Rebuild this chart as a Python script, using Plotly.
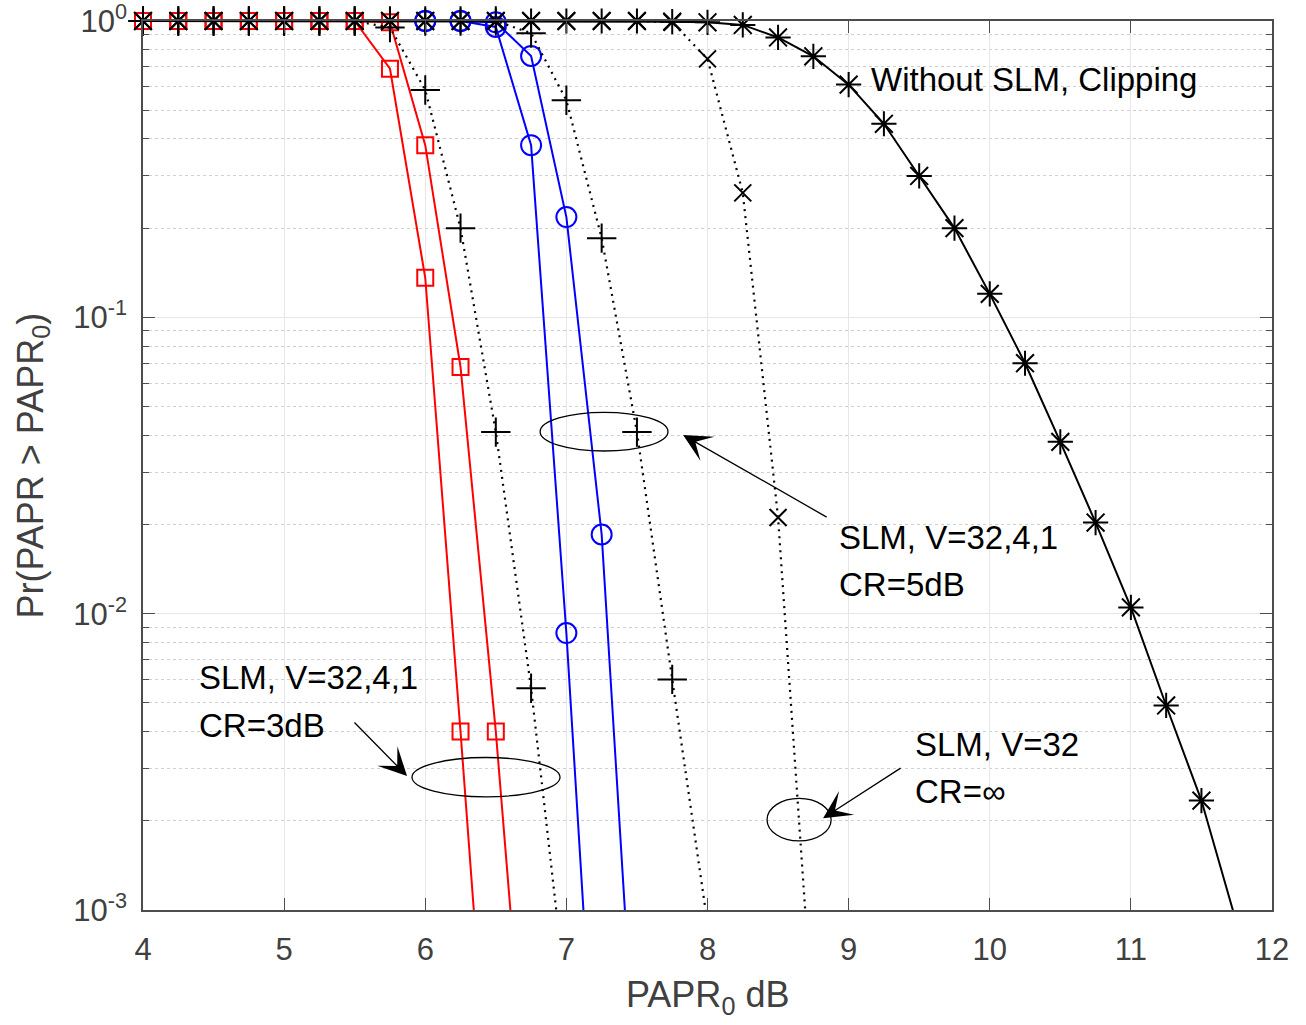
import numpy as np
import plotly.graph_objects as go

# ---------------- data ----------------
x_clip = [4.0, 4.25, 4.5, 4.75, 5.0, 5.25, 5.5, 5.75, 6.0, 6.25, 6.5, 6.75, 7.0, 7.25, 7.5,
          7.75, 8.0, 8.25, 8.5, 8.75, 9.0, 9.25, 9.5, 9.75, 10.0, 10.25, 10.5, 10.75, 11.0,
          11.25, 11.5, 11.75]
y_clip = [1.0, 1.0, 1.0, 1.0, 1.0, 1.0, 1.0, 1.0, 1.0, 1.0, 1.0, 1.0, 1.0, 1.0, 1.0,
          0.995, 0.99, 0.97, 0.88, 0.76, 0.61, 0.45, 0.30, 0.20, 0.12, 0.070, 0.038, 0.0203,
          0.0105, 0.0049, 0.00234, 0.0009]

# CR = 3 dB (red)
x_red_a = [4.0, 4.25, 4.5, 4.75, 5.0, 5.25, 5.5, 5.75, 6.0, 6.25, 6.5]
y_red_a = [1.0, 1.0, 1.0, 1.0, 1.0, 1.0, 1.0, 0.69, 0.136, 0.0040, 0.0001]
x_red_b = [4.0, 4.25, 4.5, 4.75, 5.0, 5.25, 5.5, 5.75, 6.0, 6.25, 6.5, 6.75]
y_red_b = [1.0, 1.0, 1.0, 1.0, 1.0, 1.0, 1.0, 0.99, 0.381, 0.068, 0.0040, 0.00014]
x_dot_e = [4.0, 4.25, 4.5, 4.75, 5.0, 5.25, 5.5, 5.75, 6.0, 6.25, 6.5, 6.75, 7.0]
y_dot_e = [1.0, 1.0, 1.0, 1.0, 1.0, 1.0, 1.0, 0.95, 0.585, 0.20, 0.041, 0.0056, 0.0005]

# CR = 5 dB (blue)
x_blue_c = [6.0, 6.25, 6.5, 6.75, 7.0, 7.25]
y_blue_c = [1.0, 1.0, 0.955, 0.381, 0.0086, 0.0001]
x_blue_d = [6.0, 6.25, 6.5, 6.75, 7.0, 7.25, 7.5]
y_blue_d = [1.0, 1.0, 0.99, 0.762, 0.218, 0.0185, 0.00022]
x_dot_f = [4.0, 4.25, 4.5, 4.75, 5.0, 5.25, 5.5, 5.75, 6.0, 6.25, 6.5, 6.75, 7.0, 7.25,
           7.5, 7.75, 8.0]
y_dot_f = [1.0, 1.0, 1.0, 1.0, 1.0, 1.0, 1.0, 1.0, 1.0, 1.0, 1.0, 0.91, 0.54, 0.185,
           0.041, 0.0060, 0.0009]

# CR = infinity, V = 32
x_dot_g = [4.0, 4.25, 4.5, 4.75, 5.0, 5.25, 5.5, 5.75, 6.0, 6.25, 6.5, 6.75, 7.0, 7.25,
           7.5, 7.75, 8.0, 8.25, 8.5, 8.75]
y_dot_g = [1.0, 1.0, 1.0, 1.0, 1.0, 1.0, 1.0, 1.0, 1.0, 1.0, 1.0, 1.0, 1.0, 1.0,
           1.0, 0.99, 0.745, 0.263, 0.0211, 0.0004]

x_ticks = [4, 5, 6, 7, 8, 9, 10, 11, 12]
y_ticks = [1e-3, 1e-2, 1e-1, 1]
y_ticktext = ["10<sup>-3</sup>", "10<sup>-2</sup>", "10<sup>-1</sup>", "10<sup>0</sup>"]
y_minor = [m * 10.0 ** k for k in (-3, -2, -1) for m in range(2, 10)]

FONT = "Liberation Sans, Arial, Helvetica, sans-serif"
Y_MIN = 1e-3

fig = go.Figure()


def add_series(xs, ys, color, symbol, msize, dash="solid", lw=2.0):
    xs = np.asarray(xs)
    ys = np.asarray(ys)
    fig.add_trace(go.Scatter(x=xs, y=ys, mode="lines",
                             line=dict(color=color, width=lw, dash=dash),
                             showlegend=False, hoverinfo="skip"))
    keep = ys >= Y_MIN
    fig.add_trace(go.Scatter(x=xs[keep], y=ys[keep], mode="markers",
                             marker=dict(symbol=symbol, size=msize, color=color,
                                         line=dict(color=color, width=2)),
                             cliponaxis=False, showlegend=False))


add_series(x_blue_c, y_blue_c, "#0000ff", "circle-open", 20)
add_series(x_blue_d, y_blue_d, "#0000ff", "circle-open", 20)
add_series(x_red_a, y_red_a, "#ff0000", "square-open", 16)
add_series(x_red_b, y_red_b, "#ff0000", "square-open", 16)
add_series(x_dot_e, y_dot_e, "#000000", "cross-thin-open", 21, dash="2px,5px", lw=2.2)
add_series(x_dot_f, y_dot_f, "#000000", "cross-thin-open", 21, dash="2px,5px", lw=2.2)
add_series(x_dot_g, y_dot_g, "#000000", "x-thin-open", 17, dash="2px,5px", lw=2.2)
add_series(x_clip, y_clip, "#000000", "asterisk-open", 21)

# ---------------- ellipses ----------------
ellipses = [
    (6.814, 7.72, 0.0354, 0.0478),   # CR=5dB group
    (5.906, 6.955, 0.00241, 0.00327),  # CR=3dB group
    (8.422, 8.876, 0.00171, 0.00238),  # CR=inf
]
for x0, x1, y0, y1 in ellipses:
    fig.add_shape(type="circle", xref="x", yref="y", x0=x0, x1=x1, y0=y0, y1=y1,
                  line=dict(color="black", width=1.3))

# ---------------- arrows (head x,y ; tail ax,ay) in log10 for y ----------------
arrows = [
    (7.827, -1.397, 8.855, -1.677),
    (5.871, -2.548, 5.488, -2.362),
    (8.819, -2.690, 9.379, -2.518),
]
for hx, hy, tx, ty in arrows:
    fig.add_annotation(x=hx, y=hy, ax=tx, ay=ty, xref="x", yref="y", axref="x", ayref="y",
                       text="", showarrow=True, arrowhead=3, arrowsize=3.6, arrowwidth=1.3,
                       arrowcolor="black")

# ---------------- text labels ----------------
labels = [
    ("Without SLM, Clipping", 9.145, -0.196),
    ("SLM, V=32,4,1", 8.918, -1.742),
    ("CR=5dB", 8.918, -1.900),
    ("SLM, V=32,4,1", 4.383, -2.217),
    ("CR=3dB", 4.383, -2.379),
    ("SLM, V=32", 9.457, -2.443),
    ("CR=\u221e", 9.457, -2.599),
]
for txt, lx, ly in labels:
    fig.add_annotation(x=lx, y=ly, xref="x", yref="y", text=txt, showarrow=False,
                       xanchor="left", yanchor="middle",
                       font=dict(family=FONT, size=33, color="black"))

# axis titles
fig.add_annotation(x=0.5, y=-0.098, xref="paper", yref="paper", text="PAPR<sub>0</sub> dB",
                   showarrow=False, xanchor="center", yanchor="middle",
                   font=dict(family=FONT, size=36, color="#404040"))
fig.add_annotation(x=-0.0983, y=0.5, xref="paper", yref="paper",
                   text="Pr(PAPR > PAPR<sub>0</sub>)", textangle=-90,
                   showarrow=False, xanchor="center", yanchor="middle",
                   font=dict(family=FONT, size=36, color="#404040"))

AX = "#4d4d4d"
fig.update_layout(
    width=1306, height=1025,
    margin=dict(l=143, r=34, t=21, b=115, autoexpand=False),
    paper_bgcolor="white", plot_bgcolor="white",
    font=dict(family=FONT, color="#404040"),
    xaxis=dict(range=[4, 12], tickvals=x_ticks, ticks="inside", ticklen=12,
               tickcolor=AX, tickwidth=1.3, showline=True, linecolor=AX, linewidth=1.5,
               mirror="allticks", showgrid=True, gridcolor="#e6e6e6", gridwidth=1,
               zeroline=False, tickfont=dict(family=FONT, size=31, color="#404040"),
               ticklabelstandoff=11, automargin=False),
    yaxis=dict(type="log", range=[-3, 0], tickvals=y_ticks, ticktext=y_ticktext,
               ticks="inside", ticklen=12, tickcolor=AX, tickwidth=1.3,
               showline=True, linecolor=AX, linewidth=1.5, mirror="allticks",
               showgrid=True, gridcolor="#e6e6e6", gridwidth=1, zeroline=False,
               tickfont=dict(family=FONT, size=31, color="#404040"),
               ticklabelstandoff=8, ticklabeloverflow="allow", automargin=False,
               minor=dict(tickvals=y_minor, ticks="inside", ticklen=6, tickcolor=AX,
                          tickwidth=1.2, showgrid=True, gridcolor="#cfcfcf",
                          griddash="dot", gridwidth=1)),
)

fig.write_html("out.html")
